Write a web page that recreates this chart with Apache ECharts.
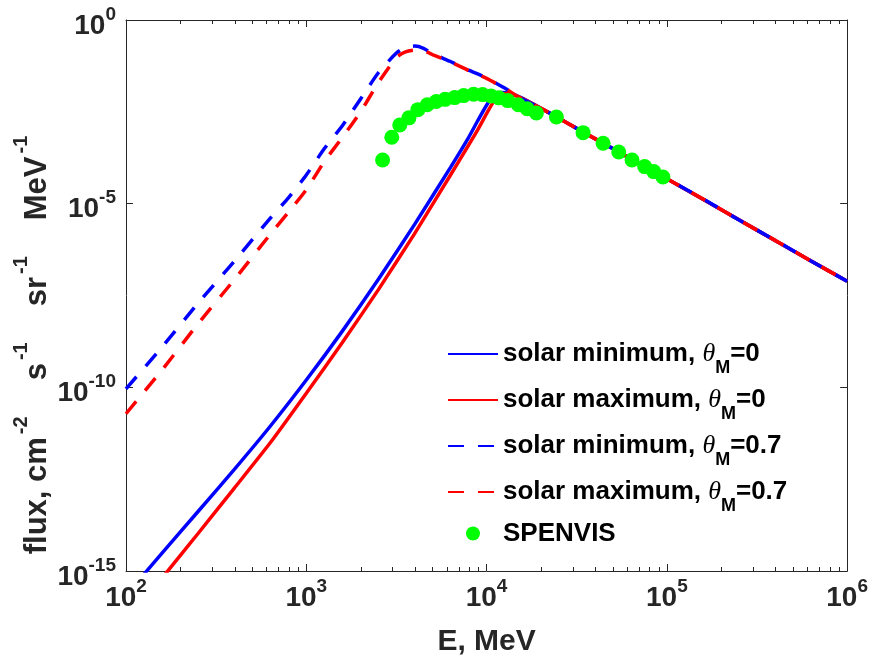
<!DOCTYPE html>
<html>
<head>
<meta charset="utf-8">
<script src="https://cdn.jsdelivr.net/npm/echarts@6/dist/echarts.min.js"></script>
<style>
  html, body { margin: 0; padding: 0; background: #fff; }
  #chart { width: 871px; height: 662px; }
</style>
</head>
<body>
<div id="chart"></div>
<script>
// Energies (MeV) for the theta_M = 0 spectra
const energySolid = [100, 158, 251, 398, 631, 1000, 1585, 2512, 3981, 6310, 7943, 8913, 10000, 10960, 12020, 13180,
  15850, 19950, 25120, 31620, 39810, 50120, 63100, 79430, 100000, 158500, 251200, 398100, 631000, 1000000];
// flux, cm^-2 s^-1 sr^-1 MeV^-1
const fluxMinTheta0 = [2.19e-16, 3.02e-15, 4.17e-14, 5.75e-13, 8.71e-12, 1.58e-10, 3.39e-9, 8.71e-8, 2.69e-6, 9.77e-5,
  6.31e-4, 1.78e-3, 4.79e-3, 8.91e-3, 1.07e-2, 1.05e-2,
  7.41e-3, 3.98e-3, 2.14e-3, 1.12e-3, 5.89e-4, 3.16e-4, 1.66e-4, 8.91e-5, 4.79e-5, 1.32e-5, 3.63e-6, 1.0e-6, 2.75e-7, 7.76e-8];
const fluxMaxTheta0 = [3.98e-17, 6.31e-16, 1.05e-14, 1.78e-13, 3.09e-12, 6.92e-11, 1.66e-9, 4.57e-8, 1.51e-6, 6.03e-5,
  3.89e-4, 1.0e-3, 2.82e-3, 6.03e-3, 9.33e-3, 1.02e-2,
  7.24e-3, 3.98e-3, 2.14e-3, 1.12e-3, 5.89e-4, 3.16e-4, 1.66e-4, 8.91e-5, 4.79e-5, 1.32e-5, 3.63e-6, 1.0e-6, 2.75e-7, 7.76e-8];

// Energies (MeV) for the theta_M = 0.7 spectra
const energyDashed = [100, 160, 250, 400, 630, 800, 1000, 1260, 1600, 2000, 2500, 3160, 3550, 4000, 4470, 5000,
  6300, 7900, 10000, 12600, 15800, 20000, 25000, 31600, 40000, 50000, 63000, 79000, 100000,
  160000, 250000, 400000, 630000, 1000000];
const fluxMinTheta07 = [9.12e-11, 1.32e-9, 1.91e-8, 2.75e-7, 3.98e-6, 1.48e-5, 6.03e-5, 3.16e-4, 1.41e-3, 7.08e-3,
  3.55e-2, 0.126, 0.182, 0.195, 0.17, 0.122, 7.41e-2, 4.37e-2, 2.63e-2, 1.41e-2, 7.08e-3,
  3.98e-3, 2.14e-3, 1.12e-3, 5.89e-4, 3.16e-4, 1.66e-4, 8.91e-5, 4.79e-5, 1.32e-5, 3.63e-6, 1.0e-6, 2.75e-7, 7.76e-8];
const fluxMaxTheta07 = [1.91e-11, 3.16e-10, 5.25e-9, 8.71e-8, 1.45e-6, 6.03e-6, 2.40e-5, 1.41e-4, 6.76e-4, 3.16e-3,
  1.91e-2, 9.55e-2, 0.135, 0.151, 0.145, 0.115, 7.24e-2, 4.27e-2, 2.57e-2, 1.38e-2, 6.92e-3,
  3.98e-3, 2.14e-3, 1.12e-3, 5.89e-4, 3.16e-4, 1.66e-4, 8.91e-5, 4.79e-5, 1.32e-5, 3.63e-6, 1.0e-6, 2.75e-7, 7.76e-8];

// SPENVIS reference points
const energySpenvis = [2650, 2980, 3300, 3710, 4160, 4690, 5260, 5890, 6650, 7460, 8470, 9500, 10600, 11700, 13100,
  15000, 16800, 18900, 24400, 34300, 44300, 54100, 64100, 75300, 84500, 95100];
const fluxSpenvis = [1.55e-4, 6.4e-4, 1.39e-3, 2.17e-3, 3.62e-3, 4.93e-3, 6.04e-3, 6.92e-3, 7.73e-3, 8.75e-3, 9.5e-3,
  9.3e-3, 8.5e-3, 7.6e-3, 6.4e-3, 4.93e-3, 3.85e-3, 2.95e-3, 2.28e-3, 8.57e-4, 4.42e-4, 2.54e-4, 1.55e-4, 1.02e-4,
  7.46e-5, 5.32e-5];

// Minor tick positions on the energy axis
const xMinorTicks = [200, 300, 400, 500, 600, 700, 800, 900,
  2000, 3000, 4000, 5000, 6000, 7000, 8000, 9000,
  20000, 30000, 40000, 50000, 60000, 70000, 80000, 90000,
  200000, 300000, 400000, 500000, 600000, 700000, 800000, 900000];

const seriesNames = ['solar minimum, θM=0', 'solar maximum, θM=0', 'solar minimum, θM=0.7', 'solar maximum, θM=0.7', 'SPENVIS'];

const FONT = "'Liberation Sans', Arial, Helvetica, sans-serif";
const AXIS_COLOR = '#262626';
const LINE_W = 3.5;
const DASH = [16, 14];

function zip(xs, ys) { return xs.map((x, i) => [x, ys[i]]); }

const tickRich = {
  b: { fontSize: 28, fontWeight: 'bold', fontFamily: FONT, color: AXIS_COLOR, lineHeight: 28, padding: [12, 0, 0, 0] },
  sup: { fontSize: 19, fontWeight: 'bold', fontFamily: FONT, color: AXIS_COLOR, lineHeight: 19, padding: [5, 0, 16, 0] }
};
const powerLabel = v => '{b|10}{sup|' + Math.round(Math.log10(v)) + '}';

const chart = echarts.init(document.getElementById('chart'), null, { renderer: 'canvas' });

const xBase = { type: 'log', logBase: 10, min: 100, max: 1e6, interval: 1, gridIndex: 0, splitLine: { show: false } };
const yBase = { type: 'log', logBase: 10, min: 1e-15, max: 1, interval: 5, gridIndex: 0, splitLine: { show: false } };
const edge = { show: true, lineStyle: { color: AXIS_COLOR, width: 1 } };
const majorTick = { show: true, inside: true, length: 7, lineStyle: { color: AXIS_COLOR, width: 1 } };

function lineSeries(idx, xs, ys, color, dash) {
  return {
    name: seriesNames[idx], type: 'line', xAxisIndex: 0, yAxisIndex: 0,
    data: zip(xs, ys), symbol: 'none', clip: true, smooth: 0.2,
    lineStyle: { color: color, width: LINE_W, type: dash }, itemStyle: { color: color }, z: 2
  };
}

chart.setOption({
  animation: false,
  backgroundColor: '#ffffff',
  grid: { left: 126, right: 22, top: 14, bottom: 89, containLabel: false },
  xAxis: [
    Object.assign({}, xBase, {
      position: 'bottom',
      name: 'E, MeV',
      nameLocation: 'middle',
      nameGap: 56,
      nameTextStyle: { fontSize: 30, fontWeight: 'bold', fontFamily: FONT, color: AXIS_COLOR },
      axisLine: edge,
      axisTick: majorTick,
      axisLabel: { show: true, margin: 7, formatter: powerLabel, rich: tickRich, showMinLabel: true, showMaxLabel: true }
    }),
    Object.assign({}, xBase, { position: 'top', axisLine: edge, axisTick: majorTick, axisLabel: { show: false } })
  ],
  yAxis: [
    Object.assign({}, yBase, {
      position: 'left',
      axisLine: edge,
      axisTick: majorTick,
      axisLabel: { show: true, margin: 10, formatter: powerLabel, rich: tickRich, showMinLabel: true, showMaxLabel: true }
    }),
    Object.assign({}, yBase, { position: 'right', axisLine: edge, axisTick: majorTick, axisLabel: { show: false } })
  ],
  legend: {
    orient: 'vertical',
    left: 447,
    top: 331,
    padding: 0,
    itemGap: 0,
    itemWidth: 50,
    itemHeight: 14,
    textStyle: {
      fontSize: 26, fontWeight: 'bold', fontFamily: FONT, color: '#000', lineHeight: 45,
      rich: {
        th: { fontSize: 26, fontStyle: 'italic', fontWeight: 'normal', fontFamily: "'Liberation Serif', 'DejaVu Serif', serif", color: '#000', lineHeight: 45 },
        sub: { fontSize: 18, fontWeight: 'bold', fontFamily: FONT, color: '#000', lineHeight: 17, padding: [28, 0, 0, 0] }
      }
    },
    formatter: name => name.replace('θM', '{th|θ}{sub|M}'),
    data: [
      { name: seriesNames[0], itemStyle: { opacity: 0 } },
      { name: seriesNames[1], itemStyle: { opacity: 0 } },
      { name: seriesNames[2], itemStyle: { opacity: 0 } },
      { name: seriesNames[3], itemStyle: { opacity: 0 } },
      { name: seriesNames[4], icon: 'circle', textStyle: { lineHeight: 37 } }
    ]
  },
  graphic: [{
    type: 'text',
    x: 32,
    y: 345,
    rotation: Math.PI / 2,
    style: {
      text: '{t|flux, cm}{s|-2}{g|s}{s|-1}{g|sr}{s|-1}{g|MeV}{s|-1}',
      align: 'center',
      verticalAlign: 'middle',
      rich: {
        t: { fontSize: 31, fontWeight: 'bold', fontFamily: FONT, fill: AXIS_COLOR, lineHeight: 31, padding: [11, 0, 0, 0] },
        g: { fontSize: 31, fontWeight: 'bold', fontFamily: FONT, fill: AXIS_COLOR, lineHeight: 31, padding: [11, 0, 0, 36] },
        s: { fontSize: 20, fontWeight: 'bold', fontFamily: FONT, fill: AXIS_COLOR, lineHeight: 20, padding: [0, 0, 22, 3] }
      }
    }
  }],
  series: [
    lineSeries(0, energySolid, fluxMinTheta0, '#0000ff', 'solid'),
    lineSeries(1, energySolid, fluxMaxTheta0, '#ff0000', 'solid'),
    lineSeries(2, energyDashed, fluxMinTheta07, '#0000ff', DASH),
    lineSeries(3, energyDashed, fluxMaxTheta07, '#ff0000', DASH),
    {
      name: seriesNames[4], type: 'scatter', xAxisIndex: 0, yAxisIndex: 0,
      data: zip(energySpenvis, fluxSpenvis), symbol: 'circle', symbolSize: 15,
      itemStyle: { color: '#00ff00', opacity: 1 }, z: 3
    },
    {
      // minor ticks on the bottom and top edges of the energy axis
      name: 'minor ticks', type: 'custom', xAxisIndex: 0, yAxisIndex: 0, silent: true, z: 1,
      data: xMinorTicks.map(v => [v, 1e-15]),
      renderItem: (params, api) => {
        const cs = params.coordSys;
        const x = Math.round(api.coord([api.value(0), 1e-15])[0]) + 0.5;
        const yb = cs.y + cs.height;
        const yt = cs.y;
        const st = { stroke: AXIS_COLOR, lineWidth: 1 };
        return {
          type: 'group',
          children: [
            { type: 'line', shape: { x1: x, y1: yb, x2: x, y2: yb - 4 }, style: st },
            { type: 'line', shape: { x1: x, y1: yt, x2: x, y2: yt + 4 }, style: st }
          ]
        };
      }
    }
  ]
});
</script>
</body>
</html>
